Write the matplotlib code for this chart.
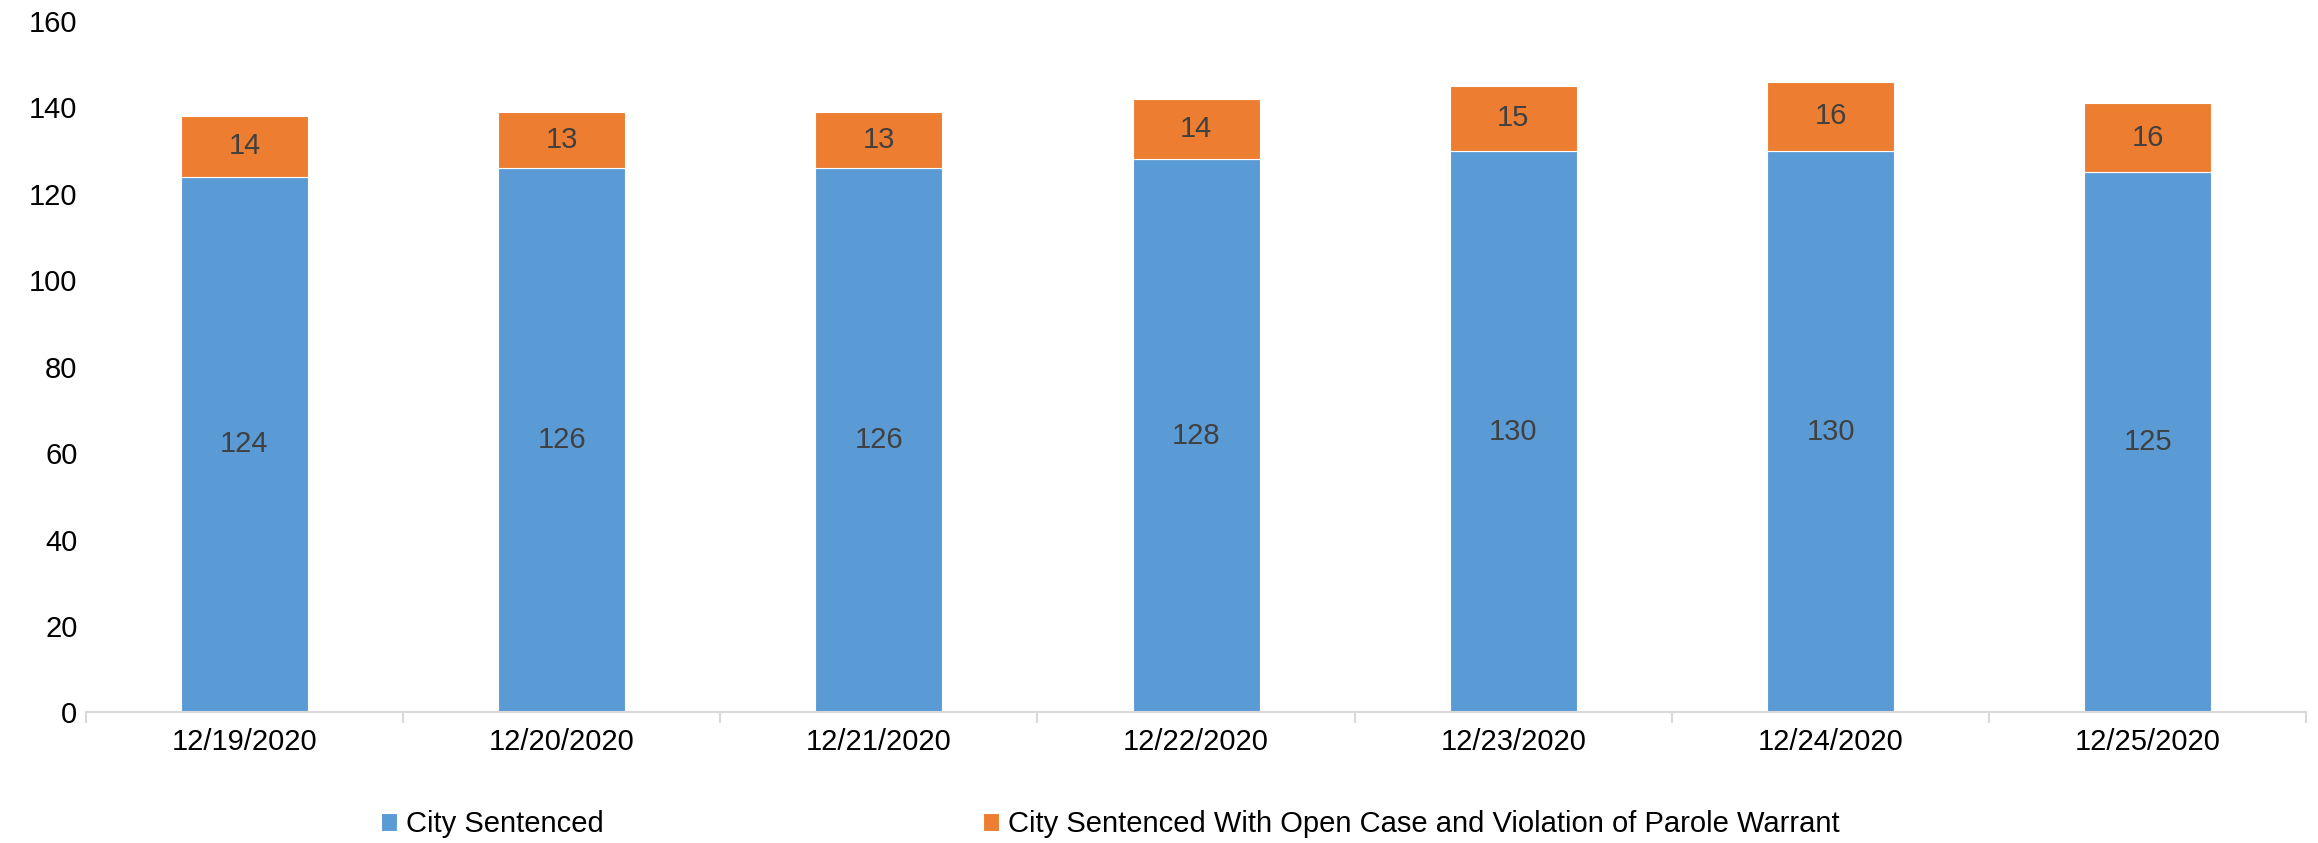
import matplotlib.pyplot as plt
import numpy as np

plt.rcParams['font.family'] = ['Liberation Sans', 'DejaVu Sans']

# values
dates = ["12/19/2020", "12/20/2020", "12/21/2020", "12/22/2020",
         "12/23/2020", "12/24/2020", "12/25/2020"]
city_sentenced = [124, 126, 126, 128, 130, 130, 125]
open_case_parole = [14, 13, 13, 14, 15, 16, 16]

blue = '#5B9BD5'
orange = '#ED7D31'
fs = 21

fig = plt.figure(figsize=(23.18, 8.43), dpi=100)
ax = fig.add_axes([0.037, 0.155, 0.958, 0.82])

x = np.arange(len(dates))
b1 = ax.bar(x, city_sentenced, width=0.4, color=blue, edgecolor='white',
            linewidth=0.8, label="City Sentenced")
b2 = ax.bar(x, open_case_parole, width=0.4, bottom=city_sentenced, color=orange,
            edgecolor='white', linewidth=0.8,
            label="City Sentenced With Open Case and Violation of Parole Warrant")

ax.bar_label(b1, label_type='center', fontsize=fs, color='#404040')
ax.bar_label(b2, label_type='center', fontsize=fs, color='#404040')

ax.set_xlim(-0.5, len(dates) - 0.5)
ax.set_ylim(0, 160)
ax.set_yticks(range(0, 161, 20))
ax.set_xticks(x)
ax.set_xticklabels(dates)
ax.set_xticks(np.arange(-0.5, len(dates), 1), minor=True)

for s in ['top', 'right', 'left']:
    ax.spines[s].set_visible(False)
ax.spines['bottom'].set_color('#D9D9D9')
ax.spines['bottom'].set_linewidth(1.5)

ax.tick_params(axis='y', length=0, labelsize=fs, pad=6)
ax.tick_params(axis='x', which='major', length=0, labelsize=fs, pad=11)
ax.tick_params(axis='x', which='minor', length=8, width=1.5, color='#D9D9D9')

fig.legend(handles=[b1, b2], loc='center', bbox_to_anchor=(0.479, 0.022),
           ncol=2, frameon=False, fontsize=fs, handlelength=0.55,
           handleheight=0.6, handletextpad=0.3, columnspacing=13)

fig.savefig('out.png', dpi=100)
